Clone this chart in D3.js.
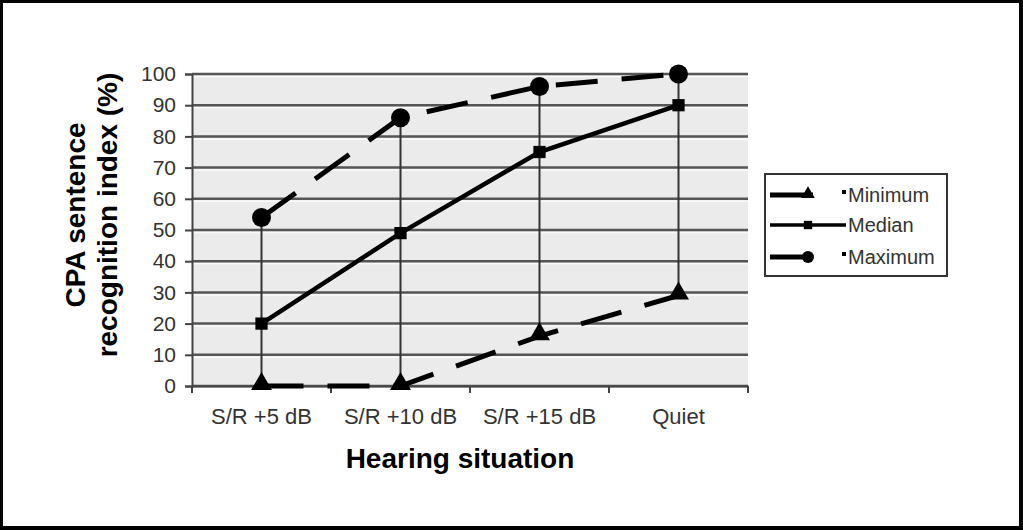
<!DOCTYPE html>
<html>
<head>
<meta charset="utf-8">
<script src="https://cdn.jsdelivr.net/npm/d3@7"></script>
<style>
  html, body { margin: 0; padding: 0; background: #000; }
  svg { display: block; font-family: "Liberation Sans", Arial, sans-serif; }
</style>
</head>
<body>
<svg id="chart" width="1023" height="530"></svg>
<script>
const categories = ["S/R +5 dB", "S/R +10 dB", "S/R +15 dB", "Quiet"];
const minimum = [0, 0, 16, 29];
const median = [20, 49, 75, 90];
const maximum = [54, 86, 96, 100];
const yTicks = [0, 10, 20, 30, 40, 50, 60, 70, 80, 90, 100];
const seriesNames = ["Minimum", "Median", "Maximum"];

const svg = d3.select("#chart");

// white page inside the black frame
svg.append("rect")
    .attr("x", 3).attr("y", 3)
    .attr("width", 1016).attr("height", 523)
    .attr("fill", "#fff");

const plotLeft = 192, plotRight = 748, plotTop = 74, plotBottom = 386;

const x = d3.scaleBand().domain(categories).range([plotLeft, plotRight]);
const y = d3.scaleLinear().domain([0, 100]).range([plotBottom, plotTop]);
const cx = d => x(d) + x.bandwidth() / 2;

// plot area background
svg.append("rect")
    .attr("x", plotLeft).attr("y", plotTop)
    .attr("width", plotRight - plotLeft).attr("height", plotBottom - plotTop)
    .attr("fill", "#ebebeb");

// gridlines (dark line with a light edge under it)
svg.append("g").selectAll("line")
    .data(yTicks.filter(t => t > 0))
    .join("line")
    .attr("x1", plotLeft).attr("x2", plotRight)
    .attr("y1", d => y(d) + 2.5).attr("y2", d => y(d) + 2.5)
    .attr("stroke", "#fafafa").attr("stroke-width", 1.5);
svg.append("g").selectAll("line")
    .data(yTicks)
    .join("line")
    .attr("x1", plotLeft).attr("x2", plotRight)
    .attr("y1", d => y(d)).attr("y2", d => y(d))
    .attr("stroke", "#555").attr("stroke-width", 2.5);

// y axis
const yAxis = svg.append("g")
    .attr("transform", `translate(${plotLeft},0)`)
    .call(d3.axisLeft(y).tickValues(yTicks).tickSize(7).tickPadding(9));
yAxis.select(".domain").attr("stroke", "#444").attr("stroke-width", 2);
yAxis.selectAll(".tick line").attr("stroke", "#444").attr("stroke-width", 2);
yAxis.selectAll(".tick text")
    .attr("fill", "#333")
    .style("font-size", "21px")
    .style("font-family", "Liberation Sans, Arial, sans-serif");

// x axis: ticks at category boundaries
const xAxis = svg.append("g")
    .attr("transform", `translate(0,${plotBottom})`)
    .call(d3.axisBottom(x).tickSize(0).tickPadding(22));
xAxis.select(".domain").attr("stroke", "#444").attr("stroke-width", 2);
xAxis.selectAll(".tick text")
    .attr("fill", "#333")
    .style("font-size", "22px")
    .style("font-family", "Liberation Sans, Arial, sans-serif");
svg.append("g").selectAll("line")
    .data([plotLeft].concat(categories.map(c => x(c) + x.bandwidth())))
    .join("line")
    .attr("x1", d => d).attr("x2", d => d)
    .attr("y1", plotBottom).attr("y2", plotBottom + 7)
    .attr("stroke", "#444").attr("stroke-width", 2);

// high-low lines
svg.append("g").selectAll("line")
    .data(categories)
    .join("line")
    .attr("x1", d => cx(d)).attr("x2", d => cx(d))
    .attr("y1", (d, i) => y(maximum[i]))
    .attr("y2", (d, i) => y(minimum[i]))
    .attr("stroke", "#333").attr("stroke-width", 2);

const line = d3.line().x((d, i) => cx(categories[i])).y(d => y(d));

svg.append("path").datum(minimum)
    .attr("d", line).attr("fill", "none")
    .attr("stroke", "#000").attr("stroke-width", 5)
    .attr("stroke-dasharray", "42,24");
svg.append("path").datum(maximum)
    .attr("d", line).attr("fill", "none")
    .attr("stroke", "#000").attr("stroke-width", 5)
    .attr("stroke-dasharray", "42,24");
svg.append("path").datum(median)
    .attr("d", line).attr("fill", "none")
    .attr("stroke", "#000").attr("stroke-width", 4.5);

const tri = d3.symbol().type(d3.symbolTriangle).size(190);
const sq = d3.symbol().type(d3.symbolSquare).size(150);

svg.append("g").selectAll("path")
    .data(minimum)
    .join("path")
    .attr("d", tri)
    .attr("transform", (d, i) => `translate(${cx(categories[i])},${y(d) - 2})`)
    .attr("fill", "#000");
svg.append("g").selectAll("path")
    .data(median)
    .join("path")
    .attr("d", sq)
    .attr("transform", (d, i) => `translate(${cx(categories[i])},${y(d)})`)
    .attr("fill", "#000");
svg.append("g").selectAll("circle")
    .data(maximum)
    .join("circle")
    .attr("cx", (d, i) => cx(categories[i]))
    .attr("cy", d => y(d))
    .attr("r", 9.5)
    .attr("fill", "#000");

// axis titles
svg.append("text")
    .attr("x", 460).attr("y", 468)
    .attr("text-anchor", "middle")
    .style("font-size", "28px").style("font-weight", "bold")
    .text("Hearing situation");

const yTitle = svg.append("text")
    .attr("transform", "translate(85,215) rotate(-90)")
    .attr("text-anchor", "middle")
    .style("font-size", "28px").style("font-weight", "bold");
yTitle.append("tspan").attr("x", 0).attr("y", 0).text("CPA sentence");
yTitle.append("tspan").attr("x", 0).attr("y", 32).text("recognition index (%)");

// legend
const lg = svg.append("g");
lg.append("rect")
    .attr("x", 765).attr("y", 174)
    .attr("width", 182).attr("height", 102)
    .attr("fill", "#fff").attr("stroke", "#333").attr("stroke-width", 2);

const legendY = [195, 225, 257];
seriesNames.forEach((name, i) => {
    const ly = legendY[i];
    const solid = name === "Median";
    lg.append("line")
        .attr("x1", 770).attr("x2", solid ? 846 : 813)
        .attr("y1", ly).attr("y2", ly)
        .attr("stroke", "#000").attr("stroke-width", solid ? 3.5 : 5);
    if (!solid) {
        lg.append("rect")
            .attr("x", 842).attr("y", ly - 5)
            .attr("width", 4).attr("height", 4)
            .attr("fill", "#000");
    }
    if (name === "Minimum") {
        lg.append("path").attr("d", d3.symbol().type(d3.symbolTriangle).size(80))
            .attr("transform", `translate(808,${ly - 1})`).attr("fill", "#000");
    } else if (name === "Median") {
        lg.append("path").attr("d", d3.symbol().type(d3.symbolSquare).size(70))
            .attr("transform", `translate(808,${ly})`).attr("fill", "#000");
    } else {
        lg.append("circle").attr("cx", 808).attr("cy", ly).attr("r", 6).attr("fill", "#000");
    }
    lg.append("text")
        .attr("x", 848).attr("y", ly + 7)
        .attr("fill", "#333")
        .style("font-size", "20px")
        .text(name);
});
</script>
</body>
</html>
